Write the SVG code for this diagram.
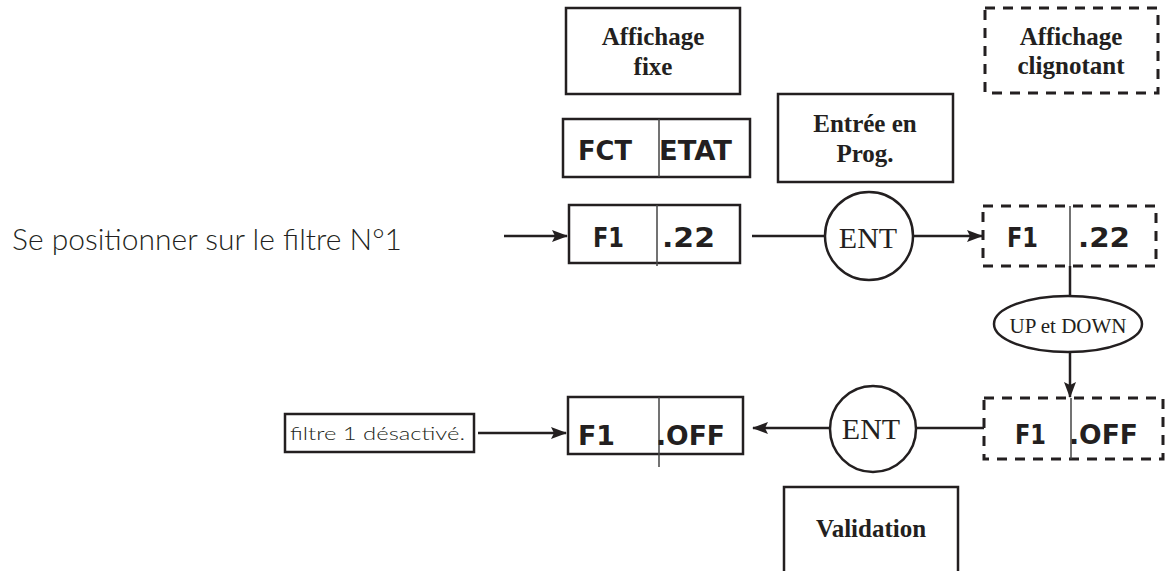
<svg xmlns="http://www.w3.org/2000/svg" width="1168" height="571" viewBox="0 0 1168 571">
<style>
.box{fill:#fff;stroke:#231f20;stroke-width:2.5}
.dash{fill:none;stroke:#231f20;stroke-width:3;stroke-dasharray:10 8}
.div{stroke:#444;stroke-width:1.5}
.conn{stroke:#231f20;stroke-width:2.5;fill:none}
.lbl{font-family:"Liberation Serif",serif;font-weight:bold;font-size:25px;fill:#231f20;text-anchor:middle}
.disp{font-family:"DejaVu Sans",sans-serif;font-weight:bold;font-size:27px;fill:#231f20}
.ent{font-family:"Liberation Serif",serif;font-size:30px;fill:#231f20;text-anchor:middle}
.geo{font-family:"Lato","Noto Sans",sans-serif;font-weight:300;fill:#231f20}
</style>
<defs>
<marker id="ah" markerWidth="16" markerHeight="12" refX="15" refY="6" orient="auto" markerUnits="userSpaceOnUse">
<path d="M0,0 L16,6 L0,12 L3,6 Z" fill="#231f20"/>
</marker>
</defs>
<rect width="1168" height="571" fill="#fff"/>

<g id="connectors">
<line class="conn" x1="504" y1="236" x2="567" y2="236" marker-end="url(#ah)"/>
<line class="conn" x1="752" y1="236" x2="825" y2="236"/>
<line class="conn" x1="913" y1="236" x2="982" y2="236" marker-end="url(#ah)"/>
<line class="conn" x1="1070" y1="266" x2="1070" y2="296"/>
<line class="conn" x1="1070" y1="352" x2="1070" y2="397" marker-end="url(#ah)"/>
<line class="conn" x1="916" y1="428" x2="984" y2="428"/>
<line class="conn" x1="830" y1="428" x2="753" y2="428" marker-end="url(#ah)"/>
<line class="conn" x1="478" y1="433" x2="566" y2="433" marker-end="url(#ah)"/>
</g>

<g id="affichage-fixe">
<rect class="box" x="566" y="8" width="174" height="86"/>
<text class="lbl" x="653" y="45">Affichage</text>
<text class="lbl" x="653" y="75">fixe</text>
</g>

<g id="affichage-clignotant">
<rect class="dash" x="985" y="8" width="173" height="85"/>
<text class="lbl" x="1071" y="45">Affichage</text>
<text class="lbl" x="1071" y="74">clignotant</text>
</g>

<g id="fct-etat">
<rect class="box" x="563" y="119" width="187" height="58"/>
<line class="div" x1="659" y1="119" x2="659" y2="177"/>
<text class="disp" x="578" y="160" textLength="54" lengthAdjust="spacingAndGlyphs">FCT</text>
<text class="disp" x="659" y="160" textLength="73" lengthAdjust="spacingAndGlyphs">ETAT</text>
</g>

<g id="entree-prog">
<rect class="box" x="778" y="94" width="175" height="88"/>
<text class="lbl" x="865" y="132">Entrée en</text>
<text class="lbl" x="865" y="162">Prog.</text>
</g>

<g id="start-text">
<text class="geo" x="12" y="250" font-size="30" textLength="390" lengthAdjust="spacingAndGlyphs">Se positionner sur le filtre N°1</text>
</g>

<g id="f1-22">
<rect class="box" x="569" y="205" width="171" height="58"/>
<line class="div" x1="657" y1="205" x2="657" y2="266"/>
<text class="disp" x="593" y="247" textLength="31" lengthAdjust="spacingAndGlyphs">F1</text>
<text class="disp" x="662" y="247" textLength="53" lengthAdjust="spacingAndGlyphs">.22</text>
</g>

<g id="ent-1">
<circle class="box" cx="869" cy="236" r="44"/>
<text class="ent" x="868" y="248">ENT</text>
</g>

<g id="f1-22-blink">
<rect class="dash" x="983" y="206" width="173" height="60"/>
<line class="div" x1="1070" y1="206" x2="1070" y2="266"/>
<text class="disp" x="1007" y="247" textLength="31" lengthAdjust="spacingAndGlyphs">F1</text>
<text class="disp" x="1078" y="247" textLength="52" lengthAdjust="spacingAndGlyphs">.22</text>
</g>

<g id="up-down">
<ellipse class="box" cx="1068" cy="324" rx="74" ry="28"/>
<text x="1068" y="333" font-family="Liberation Serif, serif" font-size="21" fill="#231f20" text-anchor="middle">UP et DOWN</text>
</g>

<g id="f1-off-blink">
<rect class="dash" x="984" y="398" width="179" height="61"/>
<line class="div" x1="1071" y1="398" x2="1071" y2="459"/>
<text class="disp" x="1015" y="444" textLength="31" lengthAdjust="spacingAndGlyphs">F1</text>
<text class="disp" x="1069" y="444" textLength="69" lengthAdjust="spacingAndGlyphs">.OFF</text>
</g>

<g id="ent-2">
<circle class="box" cx="873" cy="429" r="43"/>
<text class="ent" x="871" y="439">ENT</text>
</g>

<g id="f1-off">
<rect class="box" x="568" y="397" width="175" height="57"/>
<line class="div" x1="659" y1="397" x2="659" y2="467"/>
<text class="disp" x="578" y="445" textLength="37" lengthAdjust="spacingAndGlyphs">F1</text>
<text class="disp" x="656" y="445" textLength="69" lengthAdjust="spacingAndGlyphs">.OFF</text>
</g>

<g id="filtre-desactive">
<rect class="box" x="285" y="414" width="189" height="38" stroke-width="2"/>
<text class="geo" x="290" y="440" font-size="18" textLength="175" lengthAdjust="spacingAndGlyphs">filtre 1 désactivé.</text>
</g>

<g id="validation">
<rect class="box" x="784" y="487" width="174" height="100"/>
<text class="lbl" x="871" y="537">Validation</text>
</g>
</svg>
